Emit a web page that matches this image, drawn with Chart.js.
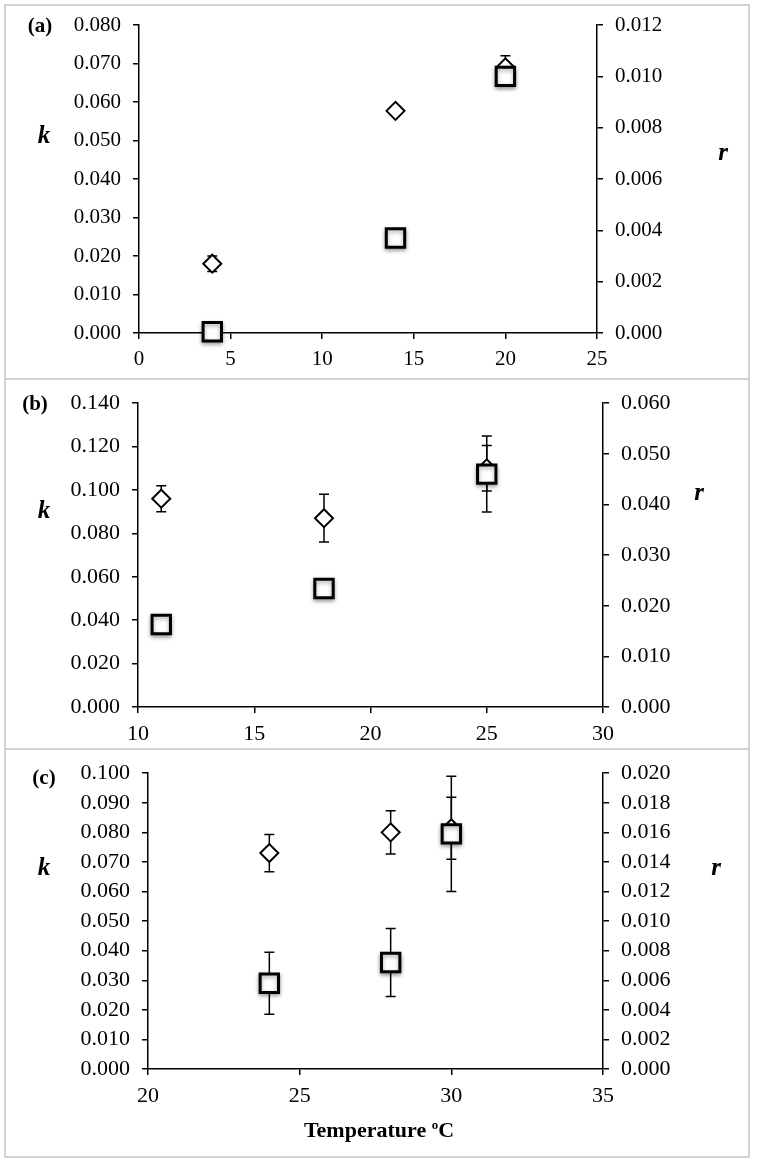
<!DOCTYPE html>
<html>
<head>
<meta charset="utf-8">
<script src="https://cdn.jsdelivr.net/npm/chart.js"></script>
<style>
  body { margin: 0; background: #fff; width: 757px; height: 1164px; position: relative; overflow: hidden; font-family: 'Liberation Serif', serif; }
  canvas { position: absolute; left: 0; }
  .frame { position: absolute; border: 2px solid #d2d2d2; box-sizing: border-box; }
  .lab { position: absolute; font-weight: bold; color: #000; transform: translate(-50%, -50%); white-space: nowrap; }
  .axl { font-style: italic; font-size: 25px; }
  .pl { font-size: 21px; }
</style>
</head>
<body>
<div class="frame" style="left:4px; top:4px; width:746px; height:376px;"></div>
<div class="frame" style="left:4px; top:378px; width:746px; height:372px; border-top:none;"></div>
<div class="frame" style="left:4px; top:748px; width:746px; height:410px; border-top:none;"></div>

<canvas id="chartA" width="757" height="378" style="top:0px"></canvas>
<canvas id="chartB" width="757" height="370" style="top:378px"></canvas>
<canvas id="chartC" width="757" height="416" style="top:748px"></canvas>

<div class="lab pl" style="left:40px; top:25px;">(a)</div>
<div class="lab axl" style="left:44px; top:135px;">k</div>
<div class="lab axl" style="left:723px; top:152px;">r</div>
<div class="lab pl" style="left:35px; top:403px;">(b)</div>
<div class="lab axl" style="left:44px; top:510px;">k</div>
<div class="lab axl" style="left:699px; top:492px;">r</div>
<div class="lab pl" style="left:44px; top:777px;">(c)</div>
<div class="lab axl" style="left:44px; top:867px;">k</div>
<div class="lab axl" style="left:716px; top:867px;">r</div>
<div class="lab" style="left:379px; top:1130px; font-size:22px;">Temperature <sup style="font-size:13px;">o</sup>C</div>

<script>
// panel (a)
const tempA = [4, 14, 20];
const kA = [0.018, 0.0577, 0.069];
const kErrA = [0.002, 0.001, 0.003];
const rA = [0.00005, 0.0037, 0.0100];
const rErrA = [0, 0, 0.0002];

// panel (b)
const tempB = [11, 18, 25];
const kB = [0.096, 0.087, 0.110];
const kErrB = [0.006, 0.011, 0.0105];
const rB = [0.0163, 0.0234, 0.046];
const rErrB = [0.0003, 0.0003, 0.0075];

// panel (c)
const tempC = [24, 28, 30];
const kC = [0.073, 0.080, 0.0814];
const kErrC = [0.0063, 0.0073, 0.0105];
const rC = [0.0058, 0.0072, 0.0159];
const rErrC = [0.0021, 0.0023, 0.0039];

// draws the +/- bars under the markers
const errorBars = {
    id: 'errorBars',
    beforeDatasetsDraw(chart) {
        const ctx = chart.ctx;
        const xs = chart.scales.x;
        chart.data.datasets.forEach(ds => {
            const ys = chart.scales[ds.yAxisID];
            ctx.save();
            ctx.strokeStyle = '#000';
            ctx.lineWidth = 1.5;
            ds.data.forEach((p, i) => {
                const e = ds.errors[i];
                if (!e) return;
                const px = xs.getPixelForValue(p.x);
                const top = ys.getPixelForValue(p.y + e);
                const bot = ys.getPixelForValue(p.y - e);
                ctx.beginPath();
                ctx.moveTo(px, top); ctx.lineTo(px, bot);
                ctx.moveTo(px - 5, top); ctx.lineTo(px + 5, top);
                ctx.moveTo(px - 5, bot); ctx.lineTo(px + 5, bot);
                ctx.stroke();
            });
            ctx.restore();
        });
    }
};

// soft shadow under the square markers
const markerShadow = {
    id: 'markerShadow',
    beforeDatasetDraw(chart, args) {
        if (!args.meta._dataset.shadow) return;
        chart.ctx.save();
        chart.ctx.shadowColor = 'rgba(0,0,0,0.35)';
        chart.ctx.shadowBlur = 4;
        chart.ctx.shadowOffsetY = 2;
    },
    afterDatasetDraw(chart, args) {
        if (!args.meta._dataset.shadow) return;
        chart.ctx.restore();
    }
};

function points(xs, ys) {
    return xs.map((x, i) => ({ x: x, y: ys[i] }));
}

function axis(pos, min, max, step, fontSize, fit, digits) {
    return {
        type: 'linear',
        position: pos,
        min: min,
        max: max,
        ticks: {
            stepSize: step,
            color: '#000',
            padding: pos === 'bottom' ? 8 : 12,
            font: { family: 'Liberation Serif', size: fontSize },
            callback: v => digits ? v.toFixed(digits) : String(Math.round(v))
        },
        grid: { drawOnChartArea: false, tickLength: 6, color: '#000', lineWidth: 1.5 },
        border: { color: '#000', width: 1.5 },
        afterFit: fit
    };
}

function makePanel(id, temps, k, kErr, r, rErr, opt) {
    const ctx = document.getElementById(id);
    new Chart(ctx, {
        type: 'scatter',
        data: {
            datasets: [{
                label: 'k',
                data: points(temps, k),
                errors: kErr,
                yAxisID: 'y',
                pointStyle: 'rectRot',
                pointRadius: 9,
                pointBorderWidth: 2,
                pointBackgroundColor: '#fff',
                pointBorderColor: '#000',
                clip: false,
                order: 2
            }, {
                label: 'r',
                data: points(temps, r),
                errors: rErr,
                yAxisID: 'y1',
                pointStyle: 'rect',
                pointRadius: 13,
                pointBorderWidth: 3,
                pointBackgroundColor: '#fff',
                pointBorderColor: '#000',
                shadow: true,
                clip: false,
                order: 1
            }]
        },
        options: {
            responsive: false,
            animation: false,
            layout: { padding: { top: opt.top, left: 0, right: 0, bottom: 0 } },
            scales: {
                x: axis('bottom', opt.xMin, opt.xMax, 5, opt.font, s => { s.height = opt.h - opt.bottom; }, 0),
                y: axis('left', 0, opt.kMax, opt.kStep, opt.font, s => { s.width = opt.left; }, 3),
                y1: axis('right', 0, opt.rMax, opt.rStep, opt.font, s => { s.width = 757 - opt.right; }, 3)
            },
            plugins: {
                legend: { display: false },
                tooltip: { enabled: false }
            }
        },
        plugins: [errorBars, markerShadow]
    });
}

makePanel('chartA', tempA, kA, kErrA, rA, rErrA,
    { h: 378, top: 25, bottom: 333, left: 139, right: 597, xMin: 0, xMax: 25, kMax: 0.08, kStep: 0.01, rMax: 0.012, rStep: 0.002, font: 21 });
makePanel('chartB', tempB, kB, kErrB, rB, rErrB,
    { h: 370, top: 24, bottom: 329, left: 138, right: 603, xMin: 10, xMax: 30, kMax: 0.14, kStep: 0.02, rMax: 0.06, rStep: 0.01, font: 22 });
makePanel('chartC', tempC, kC, kErrC, rC, rErrC,
    { h: 416, top: 22, bottom: 321, left: 148, right: 603, xMin: 20, xMax: 35, kMax: 0.1, kStep: 0.01, rMax: 0.02, rStep: 0.002, font: 22 });
</script>
</body>
</html>
